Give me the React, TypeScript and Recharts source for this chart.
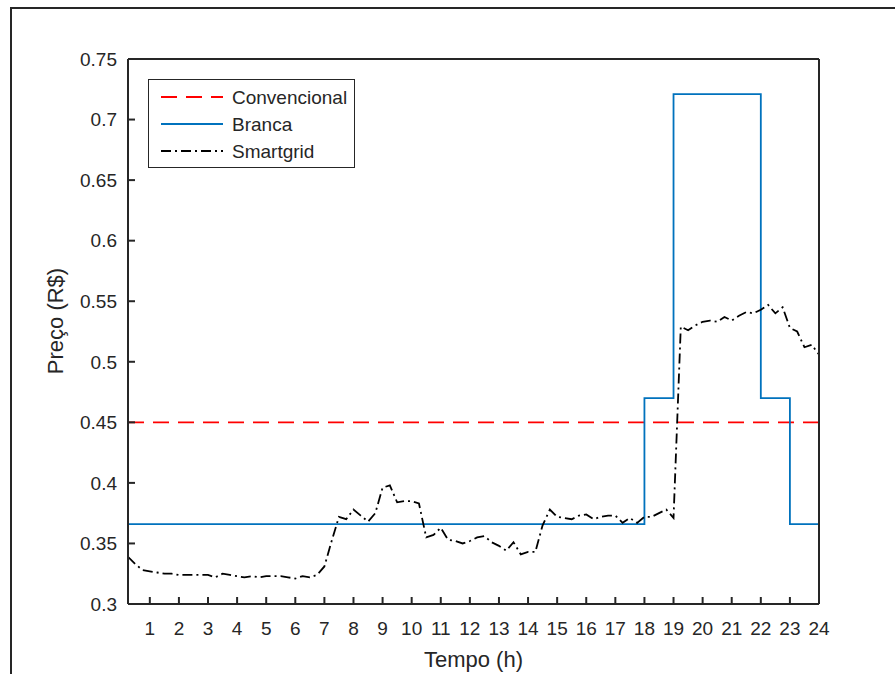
import { LineChart, Line, XAxis, YAxis, Legend } from "recharts";

// eixo x: tempo em horas, eixo y: preço em R$
const hourTicks = [1, 2, 3, 4, 5, 6, 7, 8, 9, 10, 11, 12, 13, 14, 15, 16, 17, 18, 19, 20, 21, 22, 23, 24];
const priceTicks = [0.3, 0.35, 0.4, 0.45, 0.5, 0.55, 0.6, 0.65, 0.7, 0.75];

const convencionalHours = [0.25, 24];
const convencionalPrice = [0.45, 0.45];

const brancaHours = [0.25, 18, 19, 22, 23, 24];
const brancaPrice = [0.366, 0.47, 0.721, 0.47, 0.366, 0.366];

// um valor a cada 15 min (0.25h ... 24h)
const smartgridPrice = [
  0.339, 0.333, 0.328, 0.327,
  0.326, 0.325, 0.325, 0.324,
  0.324, 0.324, 0.324, 0.324,
  0.322, 0.325, 0.324, 0.323,
  0.322, 0.323, 0.322, 0.323,
  0.323, 0.323, 0.322, 0.321,
  0.323, 0.322, 0.324, 0.331,
  0.352, 0.372, 0.370, 0.378,
  0.373, 0.368, 0.375, 0.396,
  0.398, 0.384, 0.385, 0.385,
  0.383, 0.355, 0.357, 0.363,
  0.353, 0.352, 0.350, 0.352,
  0.355, 0.356, 0.351, 0.348,
  0.344, 0.351, 0.341, 0.343,
  0.343, 0.365, 0.378, 0.372,
  0.371, 0.370, 0.373, 0.374,
  0.370, 0.372, 0.373, 0.373,
  0.367, 0.371, 0.367, 0.372,
  0.372, 0.375, 0.378, 0.371,
  0.529, 0.526, 0.530, 0.533,
  0.534, 0.533, 0.537, 0.534,
  0.538, 0.541, 0.540, 0.543,
  0.547, 0.540, 0.545, 0.528,
  0.525, 0.512, 0.514, 0.506,
];
const smartgridHours = smartgridPrice.map((_, i) => (i + 1) / 4);

const convencionalData = convencionalHours.map((hour, i) => ({ hour, price: convencionalPrice[i] }));
const brancaData = brancaHours.map((hour, i) => ({ hour, price: brancaPrice[i] }));
const smartgridData = smartgridHours.map((hour, i) => ({ hour, price: smartgridPrice[i] }));

const FONT = "'Liberation Sans', Arial, Helvetica, sans-serif";
const INK = "#262626";

const legendItems = [
  { name: "Convencional", color: "#ff0000", dash: "16 9" },
  { name: "Branca", color: "#0072bd", dash: undefined },
  { name: "Smartgrid", color: "#000000", dash: "10 4 2 4" },
];

function LegendBox() {
  return (
    <svg width={207} height={89} style={{ display: "block" }}>
      <rect x={0.5} y={0.5} width={206} height={88} fill="#fff" stroke={INK} strokeWidth={1} />
      {legendItems.map((item, i) => {
        const y = 18 + i * 27;
        return (
          <g key={item.name}>
            <line x1={13} x2={75} y1={y} y2={y} stroke={item.color} strokeWidth={1.8} strokeDasharray={item.dash} />
            <text x={84} y={y} dy="0.35em" fontSize={19} fontFamily={FONT} fill={INK}>
              {item.name}
            </text>
          </g>
        );
      })}
    </svg>
  );
}

export default function App() {
  return (
    <div style={{ position: "absolute", left: 0, top: 0, width: 895, height: 674, overflow: "hidden", background: "#fff" }}>
      <div
        style={{
          position: "absolute",
          left: 10,
          top: 7,
          width: 950,
          height: 720,
          borderTop: `2px solid ${INK}`,
          borderLeft: `2px solid ${INK}`,
        }}
      />
      <div style={{ position: "absolute", left: 0, top: 0 }}>
        <LineChart width={895} height={674} margin={{ top: 58, right: 75, bottom: 25, left: 68 }}>
          <XAxis
            xAxisId="bottom"
            dataKey="hour"
            type="number"
            domain={[0.25, 24]}
            ticks={hourTicks}
            interval={0}
            allowDataOverflow
            height={45}
            tickSize={-7}
            tickMargin={25}
            stroke={INK}
            strokeWidth={2}
            tick={{ fontSize: 19, fontFamily: FONT, fill: INK }}
            label={{
              content: () => (
                <text x={473.5} y={667} textAnchor="middle" fontSize={22} fontFamily={FONT} fill={INK}>
                  Tempo (h)
                </text>
              ),
            }}
          />
          <XAxis
            xAxisId="top"
            dataKey="hour"
            orientation="top"
            type="number"
            domain={[0.25, 24]}
            ticks={hourTicks}
            interval={0}
            allowDataOverflow
            height={1}
            tickSize={-7}
            tick={false}
            stroke={INK}
            strokeWidth={2}
          />
          <YAxis
            yAxisId="left"
            type="number"
            domain={[0.3, 0.75]}
            ticks={priceTicks}
            interval={0}
            allowDataOverflow
            width={60}
            tickSize={-7}
            tickMargin={18}
            stroke={INK}
            strokeWidth={2}
            tick={{ fontSize: 19, fontFamily: FONT, fill: INK }}
            label={{
              content: () => (
                <text
                  x={55}
                  y={321}
                  dy="0.35em"
                  textAnchor="middle"
                  transform="rotate(-90 55 321)"
                  fontSize={22}
                  fontFamily={FONT}
                  fill={INK}
                >
                  Preço (R$)
                </text>
              ),
            }}
          />
          <YAxis
            yAxisId="right"
            orientation="right"
            type="number"
            domain={[0.3, 0.75]}
            ticks={priceTicks}
            interval={0}
            allowDataOverflow
            width={1}
            tickSize={-7}
            tick={false}
            stroke={INK}
            strokeWidth={2}
          />
          <Legend
            layout="horizontal"
            verticalAlign="middle"
            align="center"
            content={() => <LegendBox />}
            wrapperStyle={{ left: 148, top: 79, width: 207, height: 89 }}
          />
          <Line
            xAxisId="bottom"
            yAxisId="left"
            data={convencionalData}
            dataKey="price"
            name="Convencional"
            type="linear"
            stroke="#ff0000"
            strokeWidth={1.8}
            strokeDasharray="16 9"
            dot={false}
            activeDot={false}
            isAnimationActive={false}
          />
          <Line
            xAxisId="bottom"
            yAxisId="left"
            data={brancaData}
            dataKey="price"
            name="Branca"
            type="stepAfter"
            stroke="#0072bd"
            strokeWidth={1.8}
            dot={false}
            activeDot={false}
            isAnimationActive={false}
          />
          <Line
            xAxisId="bottom"
            yAxisId="left"
            data={smartgridData}
            dataKey="price"
            name="Smartgrid"
            type="linear"
            stroke="#000000"
            strokeWidth={1.8}
            strokeDasharray="10 4 2 4"
            dot={false}
            activeDot={false}
            isAnimationActive={false}
          />
        </LineChart>
      </div>
    </div>
  );
}
